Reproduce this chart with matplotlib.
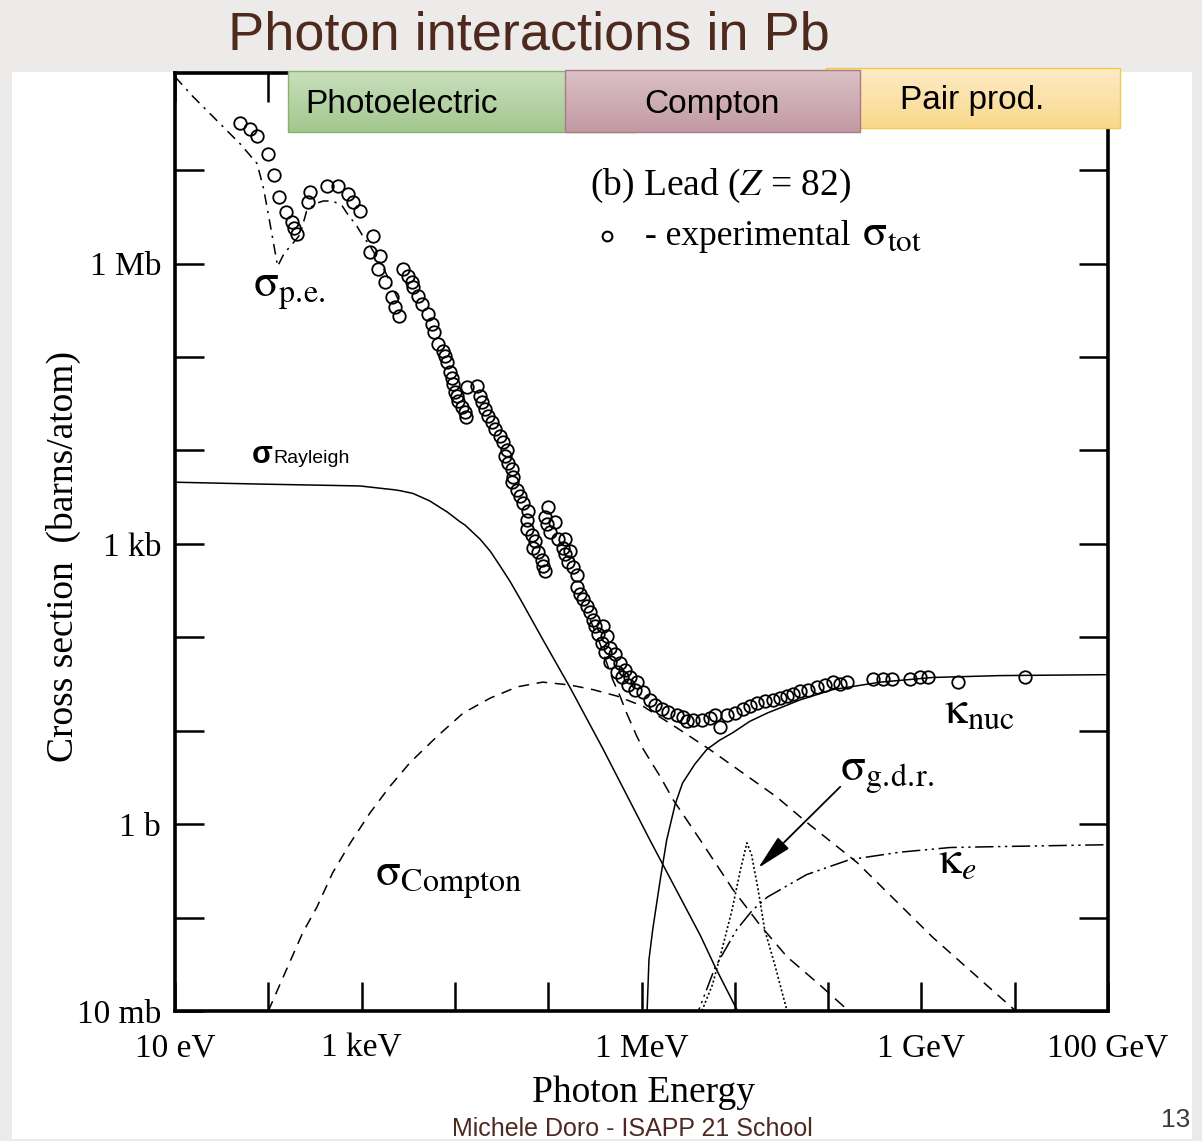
import numpy as np
import matplotlib
matplotlib.use('Agg')
import matplotlib.pyplot as plt
from matplotlib.patches import Rectangle
from matplotlib.colors import LinearSegmentedColormap
from matplotlib.ticker import NullLocator

plt.rcParams['font.family'] = ['Liberation Serif', 'DejaVu Serif']
plt.rcParams['mathtext.fontset'] = 'stix'

# all values below are log10(E / eV) and log10(sigma / barn)

# measured total cross section
exp_log_e = [
    1.70, 1.80, 1.88, 2.00, 2.06, 2.11, 2.19, 2.25, 2.28, 2.31,
    2.45, 2.43, 2.63, 2.75, 2.85, 2.91, 2.98, 3.12, 3.09, 3.20,
    3.18, 3.25, 3.33, 3.36, 3.40, 3.44, 3.50, 3.54, 3.55, 3.60,
    3.65, 3.71, 3.75, 3.78, 3.82, 3.87, 3.89, 3.92, 3.95, 3.97,
    3.98, 4.00, 4.02, 4.03, 4.08, 4.11, 4.12, 4.13, 4.24, 4.27,
    4.29, 4.32, 4.35, 4.40, 4.43, 4.48, 4.52, 4.56, 4.54, 4.57,
    4.61, 4.62, 4.61, 4.67, 4.70, 4.73, 4.78, 4.77, 4.77, 4.83,
    4.86, 4.84, 4.89, 4.93, 4.94, 4.97, 5.00, 4.97, 4.99, 5.02,
    5.07, 5.11, 5.18, 5.16, 5.23, 5.18, 5.21, 5.27, 5.31, 5.31,
    5.34, 5.37, 5.42, 5.45, 5.48, 5.50, 5.59, 5.53, 5.63, 5.58,
    5.66, 5.61, 5.72, 5.66, 5.77, 5.74, 5.82, 5.79, 5.88, 5.86,
    5.95, 5.93, 6.02, 6.09, 6.14, 6.22, 6.28, 6.38, 6.44, 6.49,
    6.55, 6.65, 6.73, 6.84, 6.79, 6.92, 7.00, 7.09, 7.16, 7.24,
    7.32, 7.41, 7.48, 7.56, 7.62, 7.70, 7.78, 7.88, 7.97, 8.05,
    8.13, 8.20, 8.48, 8.59, 8.68, 8.88, 8.98, 9.07, 9.39, 10.11]
exp_log_sig = [
    7.51, 7.44, 7.37, 7.17, 6.95, 6.71, 6.55, 6.45, 6.38, 6.32,
    6.77, 6.66, 6.83, 6.83, 6.75, 6.66, 6.56, 6.30, 6.12, 6.08,
    5.94, 5.80, 5.64, 5.53, 5.44, 5.94, 5.87, 5.80, 5.75, 5.65,
    5.57, 5.46, 5.35, 5.27, 5.14, 5.06, 5.01, 4.95, 4.84, 4.78,
    4.71, 4.63, 4.58, 4.53, 4.47, 4.41, 4.36, 4.68, 4.69, 4.58,
    4.52, 4.44, 4.37, 4.30, 4.23, 4.15, 4.09, 4.01, 3.94, 3.87,
    3.80, 3.72, 3.66, 3.58, 3.51, 3.44, 3.35, 3.26, 3.16, 3.10,
    3.03, 2.96, 2.91, 2.83, 2.76, 2.71, 3.39, 3.29, 3.21, 3.13,
    3.23, 3.05, 3.05, 2.96, 2.92, 2.89, 2.81, 2.75, 2.67, 2.54,
    2.46, 2.41, 2.33, 2.27, 2.19, 2.12, 2.12, 2.03, 2.01, 1.94,
    1.89, 1.84, 1.82, 1.74, 1.73, 1.63, 1.65, 1.57, 1.58, 1.49,
    1.52, 1.44, 1.41, 1.33, 1.28, 1.23, 1.20, 1.17, 1.15, 1.10,
    1.12, 1.12, 1.14, 1.04, 1.17, 1.17, 1.19, 1.23, 1.26, 1.30,
    1.32, 1.33, 1.35, 1.37, 1.39, 1.42, 1.44, 1.47, 1.49, 1.52,
    1.50, 1.52, 1.55, 1.55, 1.55, 1.55, 1.57, 1.58, 1.52, 1.58]

# photoelectric, low-energy part (dash-dot) and high-energy tail (dashed)
pe_low_log_e = [1.00, 1.19, 1.43, 1.70, 1.88, 1.95, 2.02, 2.10, 2.17, 2.25, 2.34,
                2.41, 2.50, 2.59, 2.69, 2.79, 2.85, 2.95, 3.01, 3.09, 3.25, 3.39]
pe_low_log_sig = [8.00, 7.79, 7.55, 7.28, 7.07, 6.80, 6.42, 5.97, 6.11, 6.20, 6.31,
                  6.56, 6.64, 6.67, 6.67, 6.62, 6.53, 6.40, 6.30, 6.19, 5.92, 5.62]
pe_high_log_e = [5.45, 5.56, 5.64, 5.69, 5.77, 5.84, 5.95, 6.02, 6.20, 6.34,
                 6.63, 6.98, 7.27, 7.56, 7.91, 8.21, 8.34]
pe_high_log_sig = [2.19, 1.92, 1.69, 1.55, 1.37, 1.19, 0.94, 0.80, 0.51, 0.26,
                   -0.17, -0.70, -1.08, -1.42, -1.72, -1.99, -2.10]

# coherent (Rayleigh) scattering
ray_log_e = [1.00, 1.91, 2.98, 3.34, 3.41, 3.55, 3.73, 3.84, 3.92, 4.05, 4.11,
             4.27, 4.38, 4.48, 4.59, 4.70, 4.94, 5.23, 5.59, 6.09, 6.63, 6.79, 7.03]
ray_log_sig = [3.66, 3.64, 3.62, 3.58, 3.57, 3.54, 3.46, 3.39, 3.34, 3.24, 3.20,
               3.05, 2.92, 2.77, 2.60, 2.41, 1.98, 1.47, 0.80, -0.17, -1.19, -1.53, -2.00]

# incoherent (Compton) scattering
comp_log_e = [2.00, 2.18, 2.37, 2.52, 2.69, 2.88, 3.09, 3.30, 3.52, 3.81, 4.09,
              4.38, 4.67, 4.94, 5.23, 5.48, 5.74, 6.02, 6.38, 6.73, 7.45, 7.77,
              8.31, 9.12, 10.00]
comp_log_sig = [-2.00, -1.59, -1.16, -0.89, -0.52, -0.20, 0.12, 0.40, 0.66, 0.94, 1.19,
                1.35, 1.47, 1.52, 1.49, 1.44, 1.37, 1.26, 1.03, 0.80, 0.29, 0.02,
                -0.41, -1.21, -1.99]

# pair production, nuclear field
nuc_log_e = [6.05, 6.06, 6.08, 6.12, 6.20, 6.27, 6.36, 6.44, 6.57, 6.70, 6.84,
             6.98, 7.16, 7.35, 7.70, 8.05, 8.56, 9.12, 9.84, 11.00]
nuc_log_sig = [-2.30, -2.00, -1.45, -1.13, -0.60, -0.17, 0.21, 0.44, 0.64, 0.80, 0.90,
               0.98, 1.10, 1.19, 1.33, 1.44, 1.52, 1.57, 1.59, 1.60]

# pair production, electron field
el_log_e = [6.57, 6.61, 6.79, 7.02, 7.19, 7.35, 7.77, 8.23, 8.77, 9.31, 9.84, 11.00]
el_log_sig = [-2.15, -2.00, -1.53, -1.13, -0.92, -0.78, -0.54, -0.38, -0.30, -0.25,
              -0.24, -0.22]

# giant dipole resonance
gdr_log_e = [6.63, 6.76, 6.86, 6.97, 7.06, 7.13, 7.18, 7.25, 7.32, 7.43, 7.56]
gdr_log_sig = [-2.04, -1.72, -1.35, -0.92, -0.49, -0.20, -0.33, -0.70, -1.13, -1.51, -2.00]

x_ticks = 10.0 ** np.arange(1, 12)
x_tick_labels = ['10 eV', '', '1 keV', '', '', '1 MeV', '', '', '1 GeV', '', '100 GeV']
y_ticks = 10.0 ** np.arange(-2, 8)
y_tick_labels = ['10 mb', '', '1 b', '', '', '1 kb', '', '', '1 Mb', '']


def pw(v):
    return np.power(10.0, np.asarray(v))


W, H = 1202, 1141
brown = '#4e2a1e'
fig = plt.figure(figsize=(W / 100, H / 100), dpi=100, facecolor='#edebe9')
fig.add_artist(Rectangle((12 / W, 2 / H), 1180 / W, 1067 / H, transform=fig.transFigure,
                         facecolor='white', edgecolor='none', zorder=-10))

ax = fig.add_axes([175 / W, 130 / H, 933 / W, 938 / H], zorder=2)
ax.set_xscale('log')
ax.set_yscale('log')
ax.set_xlim(1e1, 1e11)
ax.set_ylim(1e-2, 10 ** 8.04)

lw = 1.1
ax.plot(pw(ray_log_e), pw(ray_log_sig), color='k', lw=lw)
ax.plot(pw(comp_log_e), pw(comp_log_sig), color='k', lw=lw, dashes=(7, 5))
ax.plot(pw(pe_low_log_e), pw(pe_low_log_sig), color='k', lw=lw, dashes=(7, 4, 1.5, 4))
ax.plot(pw(pe_high_log_e), pw(pe_high_log_sig), color='k', lw=lw, dashes=(8, 5))
ax.plot(pw(nuc_log_e), pw(nuc_log_sig), color='k', lw=lw)
ax.plot(pw(el_log_e), pw(el_log_sig), color='k', lw=lw, dashes=(12, 3, 1.5, 3, 1.5, 3))
ax.plot(pw(gdr_log_e), pw(gdr_log_sig), color='k', lw=1.2, dashes=(1.2, 1.4))
ax.plot(pw(exp_log_e), pw(exp_log_sig), ls='none', marker='o', ms=9,
        mfc='none', mec='k', mew=1.3)

ax.annotate('', xy=(pw(7.25), pw(-0.47)), xytext=(pw(8.13), pw(0.40)),
            arrowprops=dict(arrowstyle='-|>,head_length=1.0,head_width=0.22',
                            mutation_scale=22, lw=1.3, color='k',
                            shrinkA=0, shrinkB=0))

ax.set_xticks(x_ticks)
ax.set_xticklabels(x_tick_labels)
ax.set_yticks(y_ticks)
ax.set_yticklabels(y_tick_labels)
ax.xaxis.set_minor_locator(NullLocator())
ax.yaxis.set_minor_locator(NullLocator())
ax.tick_params(which='major', direction='in', length=21, width=1.8,
               top=True, right=True, labelsize=24)
ax.tick_params(axis='x', pad=16)
ax.tick_params(axis='y', pad=10)
for s in ax.spines.values():
    s.set_linewidth(2.6)

# curve labels
ax.text(0.445, 0.870, r'(b) Lead ($Z$ = 82)', transform=ax.transAxes, fontsize=27,
        va='baseline')
ax.plot([0.463], [0.826], transform=ax.transAxes, marker='o', ms=7, mfc='none',
        mec='k', mew=1.5)
ax.text(0.504, 0.817, '- experimental', transform=ax.transAxes, fontsize=25.5,
        va='baseline')
ax.text(0.736, 0.817, r'$\mathrm{\sigma}_{\mathrm{tot}}$', transform=ax.transAxes,
        fontsize=32, va='baseline')
ax.text(0.0836, 0.762, r'$\mathrm{\sigma}_{\mathrm{p.\!e.}}$', transform=ax.transAxes,
        fontsize=33, va='baseline')
ax.text(0.0826, 0.584, 'σ', transform=ax.transAxes, fontsize=22, va='baseline',
        family='Liberation Sans', fontweight='bold')
ax.text(0.105, 0.584, 'Rayleigh', transform=ax.transAxes, fontsize=14, va='baseline',
        family='Liberation Sans')
ax.text(0.214, 0.134, r'$\mathrm{\sigma}_{\mathrm{Compton}}$', transform=ax.transAxes,
        fontsize=33, va='baseline')
ax.text(0.824, 0.307, r'$\mathrm{\kappa}_{\mathrm{nuc}}$', transform=ax.transAxes,
        fontsize=33, va='baseline')
ax.text(0.713, 0.246, r'$\mathrm{\sigma}_{\mathrm{g.\!d.\!r.}}$',
        transform=ax.transAxes, fontsize=33, va='baseline')
ax.text(0.818, 0.147, r'$\mathrm{\kappa}_e$', transform=ax.transAxes, fontsize=33,
        va='baseline')

fig.text(643 / W, 1 - 1093 / H, 'Photon Energy', fontsize=27, ha='center', va='center')
fig.text(63 / W, 1 - 556 / H, 'Cross section  (barns/atom)', fontsize=27,
         rotation=90, ha='center', va='center')

# slide decoration on top
deco = fig.add_axes([0, 0, 1, 1], zorder=5)
deco.axis('off')
deco.patch.set_visible(False)


def banner(x0, x1, y0, y1, top, bottom, edge, label, tx, z):
    grad = np.linspace(0, 1, 64)[:, None]
    cmap = LinearSegmentedColormap.from_list('g', [top, bottom])
    deco.imshow(grad, cmap=cmap, extent=(x0, x1, y1, y0), aspect='auto', zorder=z)
    deco.add_patch(Rectangle((x0, y0), x1 - x0, y1 - y0, fill=False, ec=edge, lw=1,
                             zorder=z + 0.1))
    deco.text(tx, y1 - 19, label, fontsize=24, family='Liberation Sans',
              ha='center', va='baseline', zorder=z + 0.2)


banner(288, 636, 71, 132, '#c8dfbd', '#a3c78e', '#86b46a', '', 0, 1)
deco.text(305, 113, 'Photoelectric', fontsize=24, family='Liberation Sans',
          va='baseline', zorder=1.2)
banner(826, 1120, 68, 128, '#fdebc6', '#fad98d', '#f3c846', 'Pair prod.', 972, 2)
banner(565, 860, 70, 132, '#dbc0c6', '#c39aa3', '#a87b85', 'Compton', 712, 3)

deco.text(228, 50, 'Photon interactions in Pb', fontsize=39, color=brown,
          family='Liberation Sans', va='baseline')
deco.text(632, 1136, 'Michele Doro - ISAPP 21 School', fontsize=18, color=brown,
          family='Liberation Sans', ha='center', va='baseline')
deco.text(1190, 1127, '13', fontsize=19, color='#3a3a3a', family='Liberation Sans',
          ha='right', va='baseline')
deco.set_xlim(0, W)
deco.set_ylim(H, 0)

fig.savefig('out.png', dpi=100, facecolor=fig.get_facecolor())
